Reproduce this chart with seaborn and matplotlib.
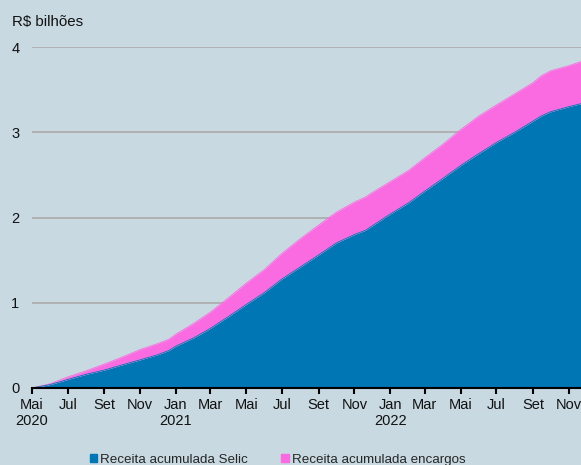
import numpy as np
import pandas as pd
import matplotlib
matplotlib.use("Agg")
import matplotlib.pyplot as plt
from matplotlib.patches import Patch
import seaborn as sns

# data (R$ bilhões, accumulated)
datas = ["2020-05-01", "2020-06-01", "2020-07-01", "2020-08-01", "2020-09-01",
         "2020-10-01", "2020-11-01", "2020-12-01", "2020-12-20", "2021-01-01",
         "2021-02-01", "2021-03-01", "2021-04-01", "2021-05-01", "2021-06-01",
         "2021-07-01", "2021-08-01", "2021-09-01", "2021-10-01", "2021-11-01",
         "2021-11-20", "2021-12-01", "2022-01-01", "2022-02-01", "2022-03-01",
         "2022-04-01", "2022-05-01", "2022-06-01", "2022-07-01", "2022-08-01",
         "2022-09-01", "2022-09-15", "2022-10-01", "2022-11-01", "2022-12-01"]
selic = [0.00, 0.04, 0.10, 0.16, 0.21, 0.27, 0.33, 0.39, 0.44, 0.49,
         0.59, 0.70, 0.84, 0.98, 1.12, 1.28, 1.42, 1.56, 1.70, 1.80,
         1.85, 1.90, 2.04, 2.17, 2.31, 2.46, 2.61, 2.75, 2.88, 3.00,
         3.13, 3.19, 3.24, 3.30, 3.35]
total = [0.00, 0.05, 0.13, 0.20, 0.28, 0.36, 0.45, 0.52, 0.57, 0.63,
         0.76, 0.89, 1.06, 1.23, 1.39, 1.58, 1.75, 1.91, 2.06, 2.18,
         2.24, 2.29, 2.42, 2.55, 2.70, 2.86, 3.03, 3.19, 3.32, 3.45,
         3.58, 3.66, 3.72, 3.78, 3.85]
encargos = [t - s for t, s in zip(total, selic)]

meses = ["Mai\n2020", "Jul", "Set", "Nov", "Jan\n2021", "Mar", "Mai", "Jul",
         "Set", "Nov", "Jan\n2022", "Mar", "Mai", "Jul", "Set", "Nov"]

df = pd.DataFrame({"data": pd.to_datetime(datas), "selic": selic, "encargos": encargos})
df["total"] = df["selic"] + df["encargos"]

bg = "#c8d9e1"
azul = "#0076b4"
rosa = "#fa6ae0"

sns.set_style("white")
plt.rcParams["font.family"] = ["Liberation Sans", "DejaVu Sans"]

fig = plt.figure(figsize=(5.81, 4.65), dpi=100, facecolor=bg)
ax = fig.add_axes([0.055, 0.1656, 0.945, 0.7333])
ax.set_facecolor(bg)

ax.stackplot(df["data"], df["selic"], df["encargos"], colors=[azul, rosa], lw=0, zorder=2)
sns.lineplot(data=df, x="data", y="total", color=rosa, lw=0.6, ax=ax, zorder=2)
sns.lineplot(data=df, x="data", y="selic", color=azul, lw=0.6, ax=ax, zorder=2)

ax.set_ylim(0, 4)
ax.set_xlim(pd.Timestamp("2020-05-01"), pd.Timestamp("2022-11-22"))
ax.set_yticks([0, 1, 2, 3, 4])
ax.set_yticklabels(["0", "1", "2", "3", "4"])
ax.yaxis.grid(True, color="#aaaaaa", lw=1.2, zorder=1)
ax.set_axisbelow(True)

ticks = pd.date_range("2020-05-01", "2022-11-01", freq="2MS")
ax.set_xticks(ticks)
ax.set_xticklabels(meses, linespacing=1.1)
ax.set_xlabel("")
ax.set_ylabel("")

for s in ["top", "right", "left"]:
    ax.spines[s].set_visible(False)
ax.spines["bottom"].set_color("black")
ax.spines["bottom"].set_linewidth(1.5)
ax.spines["bottom"].set_zorder(4)
ax.tick_params(axis="x", length=4, width=1.5, color="black", pad=3.5,
               labelsize=10.5, labelcolor="#111111", bottom=True)
ax.tick_params(axis="y", length=0, pad=12, labelsize=10.5, labelcolor="#111111")
for lb in ax.get_yticklabels():
    lb.set_horizontalalignment("center")

fig.text(12 / 581, 1 - 22 / 465, "R$ bilhões", fontsize=10.8, color="#111111",
         ha="left", va="center")

handles = [Patch(color=azul, label="Receita acumulada Selic"),
           Patch(color=rosa, label="Receita acumulada encargos")]
fig.legend(handles=handles, loc="center", bbox_to_anchor=(0.478, 1 - 460 / 465),
           ncol=2, frameon=False, fontsize=9.6, handlelength=0.55, handleheight=0.55,
           handletextpad=0.25, columnspacing=2.5, borderaxespad=0)

fig.savefig("out.png", dpi=100, facecolor=bg)
